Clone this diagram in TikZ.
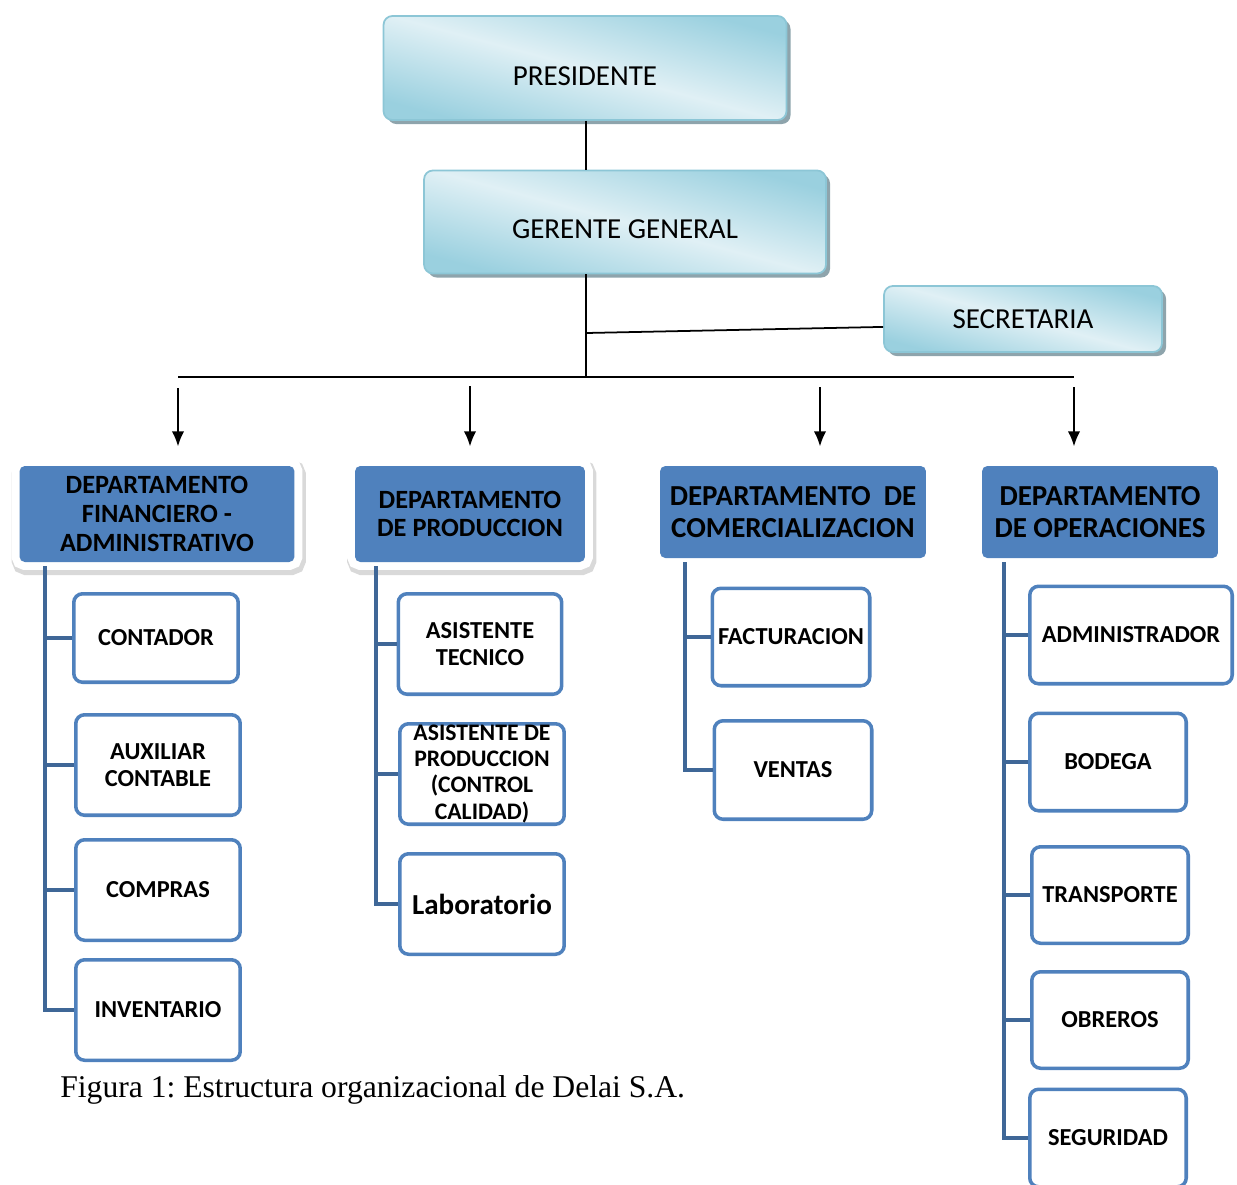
\documentclass[tikz,border=0pt]{standalone}
\usepackage{fontspec}
\setmainfont{Carlito}
\newfontfamily\capfont{Liberation Serif}
\usetikzlibrary{arrows.meta, positioning, shadows}
\definecolor{TopFill}{HTML}{E0F0F5}
\definecolor{TopDark}{HTML}{9AD0DF}
\definecolor{TopLine}{HTML}{8CC6D6}
\definecolor{TopShadow}{HTML}{8EA4AC}
\definecolor{DeptBlue}{HTML}{4F81BD}
\definecolor{SpineBlue}{HTML}{3F6797}
\frenchspacing
\tikzset{
  >=latex,
  % cajas superiores
  top box/.style={rounded corners=5pt,draw=TopLine,line width=1pt,
    top color=TopDark,bottom color=TopDark,middle color=TopFill,shading angle=-15,
    drop shadow={shadow xshift=2.3pt,shadow yshift=-2.3pt,fill=TopShadow,opacity=1},
    font=\fontsize{16.5}{19}\selectfont,inner sep=0pt},
  % departamentos
  dept/.style={rounded corners=3pt,fill=DeptBlue,align=center,inner sep=0pt,
    font=\bfseries\fontsize{15}{16.4}\selectfont},
  dept big/.style={dept,font=\bfseries\fontsize{16.5}{18}\selectfont},
  glow/.style={preaction={draw=black!15,line width=11pt,transform canvas={xshift=1pt,yshift=-2pt}},
    preaction={draw=white,line width=9pt}},
  % cargos
  sub/.style={draw=DeptBlue,line width=2pt,rounded corners=5pt,fill=white,align=center,
    inner sep=0pt,minimum width=3.29cm,minimum height=2.01cm,
    font=\bfseries\fontsize{13.9}{15.2}\selectfont},
  % conexiones
  link/.style={line width=1pt,black},
  arr/.style={-{Latex[length=8.5pt,width=7pt]},line width=0.9pt,shorten >=11pt},
  spine/.style={SpineBlue,line width=2.8pt}
}
\begin{document}
\begin{tikzpicture}[x=0.02cm,y=-0.02cm]
  \useasboundingbox (0,0) rectangle (1237,1184);

  % direccion
  \node[top box,minimum width=8.06cm,minimum height=2.08cm,text height=20pt,text depth=0pt] (pres) at (585,68) {PRESIDENTE};
  \node[top box,minimum width=8.04cm,minimum height=2.06cm,text height=18.5pt,text depth=0pt] (ger) at (625,222) {GERENTE GENERAL};
  \node[top box,minimum width=5.56cm,minimum height=1.32cm] (sec) at (1023,319) {SECRETARIA};

  \coordinate (bus) at (586,377);
  \coordinate (sj) at (586,333);
  \coordinate (busL) at (178,377);
  \coordinate (busR) at (1074,377);
  \draw[link] (pres.south -| bus) -- (ger.north -| bus);
  \draw[link] (ger.south -| bus) -- (bus);
  \draw[link] (sj) -- ([yshift=-4.5pt]sec.west);
  \draw[link] (busL) -- (busR);

  % departamentos
  \node[dept,glow,minimum width=5.5cm,minimum height=1.92cm] (fin) at (157,514)
    {DEPARTAMENTO\\FINANCIERO -\\ADMINISTRATIVO};
  \node[dept,glow,minimum width=4.6cm,minimum height=1.92cm] (prod) at (470,514)
    {DEPARTAMENTO\\DE PRODUCCION};
  \node[dept big,minimum width=5.32cm,minimum height=1.84cm] (com) at (793,512)
    {DEPARTAMENTO~~DE\\COMERCIALIZACION};
  \node[dept big,minimum width=4.72cm,minimum height=1.84cm] (ope) at (1100,512)
    {DEPARTAMENTO\\DE OPERACIONES};

  \coordinate (a1) at (178,388);
  \coordinate (a2) at (470,386);
  \coordinate (a3) at (820,387);
  \coordinate (a4) at (1074,387);
  \draw[arr] (a1) -- (a1 |- fin.north);
  \draw[arr] (a2) -- (a2 |- prod.north);
  \draw[arr] (a3) -- (a3 |- com.north);
  \draw[arr] (a4) -- (a4 |- ope.north);

  % financiero - administrativo
  \node[sub,minimum height=1.77cm] (cont) at (156,638) {CONTADOR};
  \node[sub] (aux) at (158,765) {AUXILIAR\\CONTABLE};
  \node[sub] (comp) at (158,890) {COMPRAS};
  \node[sub] (inv) at (158,1010) {INVENTARIO};
  \coordinate (s1) at (45,566);
  \draw[spine] (s1) |- (inv.west);
  \foreach \b in {cont,aux,comp}
    \draw[spine] (s1 |- \b.west) -- (\b.west);

  % produccion
  \node[sub,minimum width=3.27cm] (at) at (480,644) {ASISTENTE\\TECNICO};
  \node[sub,font=\bfseries\fontsize{13.5}{14.8}\selectfont] (adp) at (482,774) {ASISTENTE DE\\PRODUCCION\\(CONTROL\\CALIDAD)};
  \node[sub,font=\bfseries\fontsize{16.5}{19}\selectfont] (lab) at (482,904) {Laboratorio};
  \coordinate (s2) at (376,566);
  \draw[spine] (s2) |- (lab.west);
  \foreach \b in {at,adp}
    \draw[spine] (s2 |- \b.west) -- (\b.west);

  % comercializacion
  \node[sub,minimum width=3.15cm,minimum height=1.95cm] (fac) at (791,637) {FACTURACION};
  \node[sub,minimum width=3.15cm,minimum height=1.97cm] (ven) at (793,770) {VENTAS};
  \coordinate (s3) at (685,562);
  \draw[spine] (s3) |- (ven.west);
  \draw[spine] (s3 |- fac.west) -- (fac.west);

  % operaciones
  \node[sub,minimum width=4.05cm,minimum height=1.95cm] (adm) at (1131,635) {ADMINISTRADOR};
  \node[sub,minimum width=3.13cm,minimum height=1.95cm] (bod) at (1108,762) {BODEGA};
  \node[sub,minimum width=3.13cm,minimum height=1.93cm] (tra) at (1110,895) {TRANSPORTE};
  \node[sub,minimum width=3.13cm,minimum height=1.93cm] (obr) at (1110,1020) {OBREROS};
  \node[sub,minimum width=3.13cm,minimum height=1.95cm] (seg) at (1108,1138) {SEGURIDAD};
  \coordinate (s4) at (1004,562);
  \draw[spine] (s4) |- (seg.west);
  \foreach \b in {adm,bod,tra,obr}
    \draw[spine] (s4 |- \b.west) -- (\b.west);

  % pie de figura
  \node[anchor=west,inner sep=0pt,font=\capfont\fontsize{18}{21}\selectfont] (cap) at (60,1090)
    {Figura 1: Estructura organizacional de Delai S.A.};
\end{tikzpicture}
\end{document}
